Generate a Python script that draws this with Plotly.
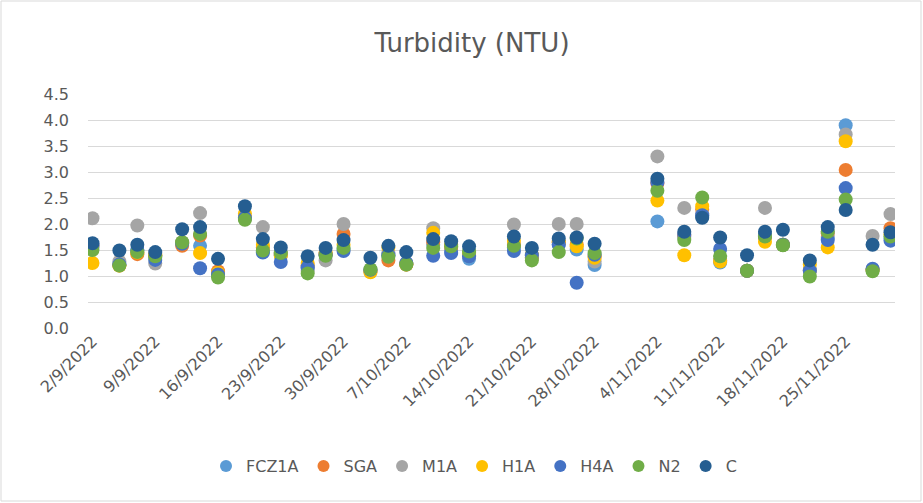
import plotly.graph_objects as go

dates = ["2022-09-02","2022-09-05","2022-09-07","2022-09-09","2022-09-12","2022-09-14","2022-09-16",
         "2022-09-19","2022-09-21","2022-09-23","2022-09-26","2022-09-28","2022-09-30","2022-10-03",
         "2022-10-05","2022-10-07","2022-10-10","2022-10-12","2022-10-14","2022-10-19","2022-10-21",
         "2022-10-24","2022-10-26","2022-10-28","2022-11-04","2022-11-07","2022-11-09","2022-11-11",
         "2022-11-14","2022-11-16","2022-11-18","2022-11-21","2022-11-23","2022-11-25","2022-11-28",
         "2022-11-30"]

FCZ1A = [1.55,1.22,1.5,1.35,1.62,1.58,1.05,2.12,1.47,1.4,1.15,1.42,1.52,1.1,1.4,1.22,1.6,1.5,1.33,1.55,1.35,1.6,1.51,1.21,2.05,1.75,2.15,1.26,1.1,1.75,1.6,1.12,1.75,3.9,1.12,1.72]
SGA = [1.58,1.2,1.42,1.4,1.58,1.78,1.09,2.12,1.55,1.42,1.2,1.42,1.81,1.1,1.3,1.22,1.65,1.55,1.39,1.6,1.35,1.65,1.6,1.38,2.78,1.78,2.28,1.3,1.1,1.75,1.6,1.1,1.82,3.04,1.12,1.92]
M1A = [2.11,1.28,1.97,1.24,1.65,2.21,1.02,2.1,1.94,1.45,1.1,1.3,2.0,1.08,1.45,1.25,1.92,1.6,1.45,1.99,1.4,2.0,2.0,1.28,3.3,2.31,2.2,1.3,1.1,2.31,1.6,1.1,1.85,3.72,1.77,2.19]
H1A = [1.25,1.2,1.45,1.4,1.63,1.44,1.06,2.2,1.6,1.39,1.25,1.45,1.6,1.07,1.55,1.22,1.83,1.6,1.43,1.68,1.41,1.65,1.57,1.35,2.45,1.4,2.34,1.28,1.1,1.66,1.6,1.22,1.55,3.59,1.12,1.8]
H4A = [1.6,1.22,1.5,1.31,1.62,1.15,1.03,2.12,1.45,1.27,1.17,1.4,1.48,1.12,1.4,1.25,1.39,1.44,1.38,1.48,1.4,1.6,0.87,1.41,2.8,1.8,2.17,1.52,1.1,1.78,1.6,1.1,1.69,2.69,1.14,1.68]
N2 = [1.5,1.2,1.46,1.38,1.65,1.81,0.97,2.08,1.49,1.44,1.05,1.39,1.54,1.13,1.37,1.22,1.54,1.57,1.47,1.58,1.3,1.46,1.72,1.44,2.64,1.69,2.51,1.38,1.1,1.76,1.59,0.99,1.85,2.47,1.09,1.76]
C = [1.63,1.49,1.6,1.46,1.9,1.94,1.33,2.34,1.71,1.55,1.38,1.54,1.69,1.35,1.58,1.46,1.71,1.67,1.57,1.76,1.54,1.72,1.74,1.62,2.87,1.85,2.12,1.74,1.4,1.85,1.89,1.3,1.94,2.27,1.6,1.84]

series = [("FCZ1A", FCZ1A, "#5B9BD5"), ("SGA", SGA, "#ED7D31"), ("M1A", M1A, "#A5A5A5"),
          ("H1A", H1A, "#FFC000"), ("H4A", H4A, "#4472C4"), ("N2", N2, "#70AD47"), ("C", C, "#255E91")]

tick_dates = ["2022-09-02","2022-09-09","2022-09-16","2022-09-23","2022-09-30","2022-10-07","2022-10-14",
              "2022-10-21","2022-10-28","2022-11-04","2022-11-11","2022-11-18","2022-11-25"]
tick_labels = ["2/9/2022","9/9/2022","16/9/2022","23/9/2022","30/9/2022","7/10/2022","14/10/2022",
               "21/10/2022","28/10/2022","4/11/2022","11/11/2022","18/11/2022","25/11/2022"]
y_ticks = [0.0,0.5,1.0,1.5,2.0,2.5,3.0,3.5,4.0,4.5]

FONT = "DejaVu Sans, sans-serif"
TXT = "#595959"

fig = go.Figure()
for name, vals, col in series:
    fig.add_trace(go.Scatter(x=dates, y=vals, mode="markers", name=name,
                             marker=dict(color=col, size=14, line=dict(width=0))))

L, R, T, B = 88, 28, 94, 175
W, H = 923, 503
pw, ph = W - L - R, H - T - B

fig.update_layout(
    width=W, height=H,
    margin=dict(l=L, r=R, t=T, b=B, autoexpand=False),
    paper_bgcolor="white", plot_bgcolor="white",
    font=dict(family=FONT, color=TXT, size=16),
    title=dict(text="Turbidity (NTU)", x=(472 - L) / pw, xanchor="center", xref="paper",
               y=1 - 43 / H, yanchor="middle",
               font=dict(family=FONT, size=26, color=TXT)),
    showlegend=True,
    legend=dict(orientation="h", x=(474 - L) / pw, xanchor="center", y=(T + ph - 466) / ph, yref="paper",
                yanchor="middle", font=dict(family=FONT, size=16, color=TXT), itemwidth=30,
                tracegroupgap=0, itemsizing="constant"),
    xaxis=dict(range=["2022-09-01 12:00", "2022-11-30 12:00"], tickvals=tick_dates, ticktext=tick_labels,
               tickangle=-45, showgrid=False, zeroline=False, showline=False, ticks="", automargin=False,
               tickfont=dict(family=FONT, size=16, color=TXT)),
    yaxis=dict(range=[0, 4.5], tickvals=y_ticks, ticktext=[f"{v:.1f}" for v in y_ticks],
               showgrid=True, gridcolor="#D9D9D9", gridwidth=1, zeroline=False, showline=False,
               ticks="", automargin=False, ticklabelstandoff=18,
               tickfont=dict(family=FONT, size=16, color=TXT)),
    shapes=[dict(type="rect", xref="paper", yref="paper",
                 x0=(1 - L) / pw, x1=(W - 2 - L) / pw,
                 y0=(T + ph - (H - 2)) / ph, y1=(T + ph - 1) / ph,
                 line=dict(color="#D9D9D9", width=1), fillcolor="rgba(0,0,0,0)", layer="below")],
)

fig.write_html("out.html", config={"displayModeBar": False},
               post_script="document.body.style.margin='0';document.body.style.overflow='hidden';")
